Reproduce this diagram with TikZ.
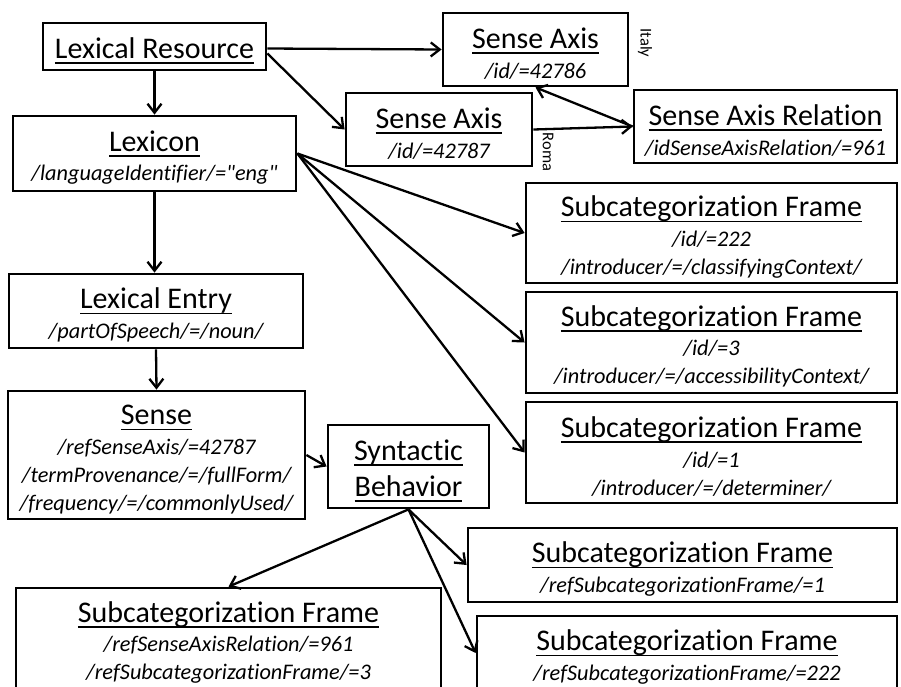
\documentclass[tikz,border=0pt]{standalone}
\usepackage{fontspec}
\setmainfont{Carlito}[Ligatures={NoCommon,TeXOff}]
\usetikzlibrary{arrows.meta}
\newcommand\ulx[1]{\setbox0=\hbox{#1}\rlap{\rule[-5.5pt]{\wd0}{1.8pt}}\box0}
\newcommand\ttlx[1]{{\fontsize{30}{30}\selectfont\upshape\rule{0pt}{29pt}\ulx{#1}}}
\newcommand\dq{\symbol{34}}
\tikzset{
  box/.style={draw, line width=2.8pt, fill=white, align=center, inner sep=0pt,
    font=\fontsize{22.3}{28}\selectfont\itshape},
  conn/.style={line width=2.3pt, -{Straight Barb[length=9pt,width=14pt]}},
  sidelabel/.style={rotate=-90, inner sep=0pt, font=\fontsize{16.5}{18}\selectfont},
}
\begin{document}
\begin{tikzpicture}[x=1pt,y=-1pt]
\useasboundingbox (0,0) rectangle (901,686);
\fill[white] (0,0) rectangle (901,686);
\clip (0,0) rectangle (901,686);
% nodes
\node[box, minimum width=223pt, minimum height=47pt] (lr) at (154.5,46.5) {\ttlx{Lexical Resource}};
\node[box, minimum width=283pt, minimum height=75pt] (lexicon) at (154.5,153.5)
  {\ttlx{Lexicon}\\[1.5pt] /languageIdentifier/=\dq eng\dq};
\node[box, minimum width=185pt, minimum height=73pt] (sa1) at (535.5,49.5)
  {\ttlx{Sense Axis}\\[1.5pt] /id/=42786};
\node[box, minimum width=186pt, minimum height=73pt] (sa2) at (439,129.5)
  {\ttlx{Sense Axis}\\[1.5pt] /id/=42787};
\node[box, minimum width=263pt, minimum height=73pt] (sar) at (765.5,126.5)
  {\ttlx{Sense Axis Relation}\\[1.5pt] /idSenseAxisRelation/=961};
\node[sidelabel] (italy) at (645,43) {Italy};
\node[sidelabel] (roma) at (548,152) {Roma};
\node[box, minimum width=371pt, minimum height=100pt] (sf1) at (711.5,233)
  {\ttlx{Subcategorization Frame}\\[1.5pt] /id/=222\\ /introducer/=/classifyingContext/};
\node[box, minimum width=371pt, minimum height=101pt] (sf2) at (711.5,342.5)
  {\ttlx{Subcategorization Frame}\\[1.5pt] /id/=3\\ /introducer/=/accessibilityContext/};
\node[box, minimum width=371pt, minimum height=101pt] (sf3) at (711.5,452.5)
  {\ttlx{Subcategorization Frame}\\[1.5pt] /id/=1\\ /introducer/=/determiner/};
\node[box, minimum width=294pt, minimum height=74pt] (le) at (156,311)
  {\ttlx{Lexical Entry}\\[1.5pt] /partOfSpeech/=/noun/};
\node[box, minimum width=297pt, minimum height=128pt] (sense) at (156.5,455)
  {\ttlx{Sense}\\[1.5pt] /refSenseAxis/=42787\\ /termProvenance/=/fullForm/\\ /frequency/=/commonlyUsed/};
\node[box, minimum width=161pt, minimum height=83pt, font=\fontsize{30}{33}\selectfont] (sb) at (408.5,466.5)
  {\ttlx{Syntactic}\\ \ttlx{Behavior}};
\node[box, minimum width=425pt, minimum height=101pt] (sfb) at (228.5,638.5)
  {\ttlx{Subcategorization Frame}\\[1.5pt] /refSenseAxisRelation/=961\\ /refSubcategorizationFrame/=3};
\node[box, minimum width=429pt, minimum height=74pt] (sfr1) at (682.5,565)
  {\ttlx{Subcategorization Frame}\\[1.5pt] /refSubcategorizationFrame/=1};
\node[box, minimum width=420pt, minimum height=74pt] (sfr2) at (687,653)
  {\ttlx{Subcategorization Frame}\\[1.5pt] /refSubcategorizationFrame/=222};
% connectors
\draw[conn] ([yshift=-2pt]lr.east) -- (sa1.west);
\draw[conn] ([yshift=-7pt]lr.east) -- (sa2.west);
\draw[conn] (sa2.east) -- (sar.west);
\draw[conn] (sar.west) -- (sa1.south);
\draw[conn] (lr.south) -- (lexicon.north);
\draw[conn] (lexicon.south) -- (lexicon.south |- le.north);
\draw[conn] (le.south) -- (sense.north);
\draw[conn] (lexicon.east) -- (sf1.west);
\draw[conn] (lexicon.east) -- (sf2.west);
\draw[conn] (lexicon.east) -- (sf3.west);
\draw[conn] (sense.east) -- (sb.west);
\draw[conn] (sb.south) -- (sfb.north);
\draw[conn] (sb.south) -- (sfr1.west);
\draw[conn] (sb.south) -- (sfr2.west);
\end{tikzpicture}
\end{document}
